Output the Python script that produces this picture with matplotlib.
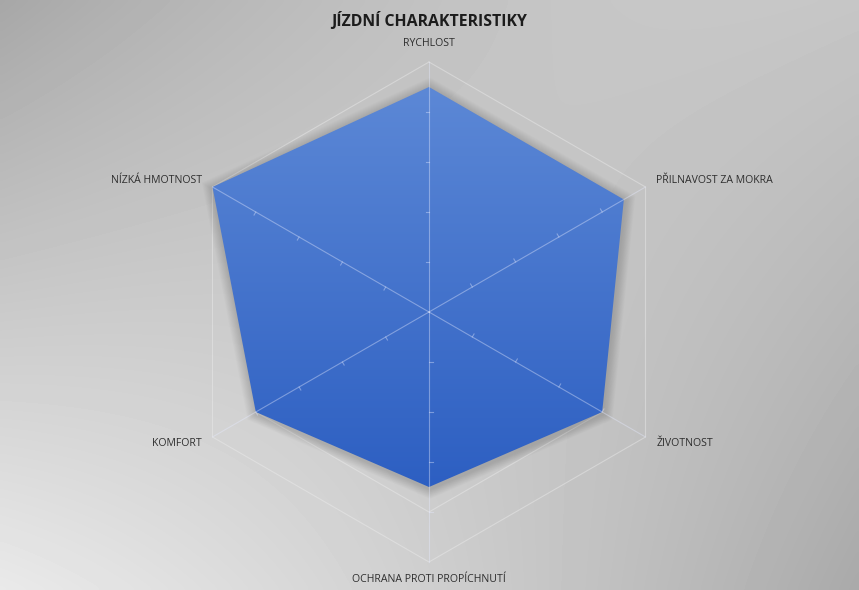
import numpy as np
import matplotlib
matplotlib.use("Agg")
import matplotlib.pyplot as plt
from matplotlib.patches import Polygon

plt.rcParams["font.family"] = ["Open Sans", "DejaVu Sans"]

# data
categories = ["RYCHLOST", "PŘILNAVOST ZA MOKRA", "ŽIVOTNOST",
              "OCHRANA PROTI PROPÍCHNUTÍ", "KOMFORT", "NÍZKÁ HMOTNOST"]
values = [4.5, 4.5, 4.0, 3.5, 4.0, 5.0]
ring_levels = [1, 2, 3, 4, 5]
title = "JÍZDNÍ CHARAKTERISTIKY"

W, H = 859, 590
PX = 50.0               # pixels per value unit
CX, CY = 429, 312       # centre in pixels (from top-left)

fig = plt.figure(figsize=(W / 100, H / 100), dpi=100)

# ── background gradient ──────────────────────────────────────────────────
bg = fig.add_axes([0, 0, 1, 1], zorder=0)
u = np.linspace(0, 1, 200)[None, :]
v = np.linspace(0, 1, 140)[:, None]
tl, tr, bl, br = 0.655, 0.775, 0.915, 0.665
img = (tl * (1 - u) * (1 - v) + tr * u * (1 - v) + bl * (1 - u) * v + br * u * v)
img = img + 0.18 * u * (1 - u) * (1 - v) + 0.08 * u * (1 - u) * v
bg.imshow(img, cmap="gray", vmin=0, vmax=1, aspect="auto", extent=[0, 1, 1, 0],
          interpolation="bicubic")
bg.axis("off")

# ── radar axes (cartesian, equal scale) ──────────────────────────────────
ax = fig.add_axes([0, 0, 1, 1], zorder=1)
ax.set_xlim(-CX / PX, (W - CX) / PX)
ax.set_ylim(-(H - CY) / PX, CY / PX)
ax.set_facecolor("none")
ax.axis("off")

n = len(categories)
theta = np.arange(n) * 2 * np.pi / n
sx, sy = np.sin(theta), np.cos(theta)

GRID = (0.93, 0.93, 0.93, 0.45)
for lv in ring_levels:
    xs = np.append(lv * sx, lv * sx[0])
    ys = np.append(lv * sy, lv * sy[0])
    ax.plot(xs, ys, color=GRID, lw=0.8, zorder=2)

vals = np.array(values)
px, py = vals * sx, vals * sy

# soft shadow
for k in range(12):
    s = 1 + 0.0045 * (k + 1)
    ax.add_patch(Polygon(np.c_[px * s + 0.02, py * s - 0.05], closed=True,
                         fc="black", ec="none", alpha=0.013, zorder=3))

poly = Polygon(np.c_[px, py], closed=True, fc="none", ec="none", zorder=4)
ax.add_patch(poly)
grad = np.linspace(0, 1, 256)[:, None]
top_c = np.array([0x5c, 0x88, 0xd6]) / 255
bot_c = np.array([0x2d, 0x5f, 0xc2]) / 255
gimg = top_c[None, None, :] * (1 - grad[:, :, None]) + bot_c[None, None, :] * grad[:, :, None]
gi = ax.imshow(gimg, extent=[px.min(), px.max(), py.min(), py.max()],
               aspect="auto", origin="upper", zorder=4, interpolation="bilinear")
gi.set_clip_path(poly)

# spokes with tick marks
SPOKE = (0.9, 0.92, 1, 0.4)
for i in range(n):
    ax.plot([0, 5 * sx[i]], [0, 5 * sy[i]], color=SPOKE, lw=0.8, zorder=5)
    nx, ny = -sy[i], sx[i]
    for lv in ring_levels[:-1]:
        ax.plot([lv * sx[i], lv * sx[i] + 0.07 * nx], [lv * sy[i], lv * sy[i] + 0.07 * ny],
                color=SPOKE, lw=0.8, zorder=5)

# category labels
R = 5.25
for i, lab in enumerate(categories):
    x, y = R * sx[i], R * sy[i]
    if abs(sx[i]) < 1e-6:
        ha, va = "center", ("bottom" if sy[i] > 0 else "top")
    else:
        ha, va = ("left" if sx[i] > 0 else "right"), "center"
    ax.text(x, y, lab, ha=ha, va=va, fontsize=7.6, color="#2e2e2e", zorder=6)

fig.text(CX / W, 1 - 21 / H, title, ha="center", va="center", fontsize=11.4,
         fontweight="bold", color="#1c1c1c")

fig.savefig("out.png", dpi=100)
